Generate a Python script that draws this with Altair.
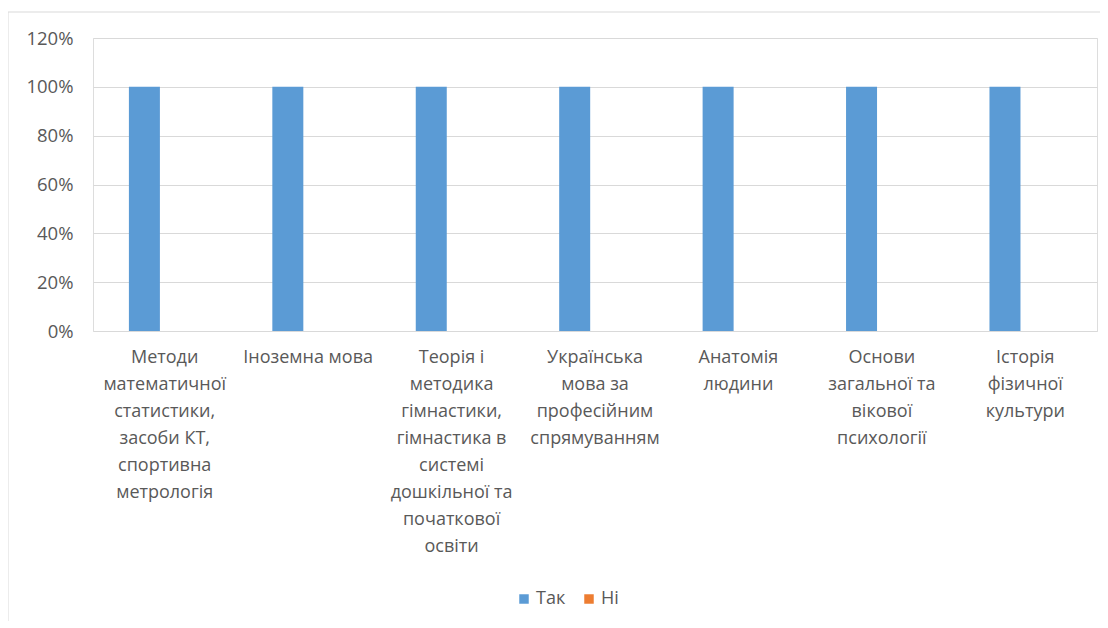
import altair as alt
import pandas as pd

categories = [
    "Методи\nматематичної\nстатистики,\nзасоби КТ,\nспортивна\nметрологія",
    "Іноземна мова",
    "Теорія і\nметодика\nгімнастики,\nгімнастика в\nсистемі\nдошкільної та\nпочаткової\nосвіти",
    "Українська\nмова за\nпрофесійним\nспрямуванням",
    "Анатомія\nлюдини",
    "Основи\nзагальної та\nвікової\nпсихології",
    "Історія\nфізичної\nкультури",
]
series = ["Так", "Ні"]
tak_values = [1.0, 1.0, 1.0, 1.0, 1.0, 1.0, 1.0]
ni_values = [0.0, 0.0, 0.0, 0.0, 0.0, 0.0, 0.0]
y_ticks = [0, 0.2, 0.4, 0.6, 0.8, 1.0, 1.2]
colors = ["#5B9BD5", "#ED7D31"]

rows = []
for c, t, n in zip(categories, tak_values, ni_values):
    rows.append({"cat": c, "series": "Так", "value": t})
    rows.append({"cat": c, "series": "Ні", "value": n})
df = pd.DataFrame(rows)

FONT = "Open Sans"
GRAY = "#595959"

bars = alt.Chart(df).mark_bar().encode(
    x=alt.X(
        "cat:N",
        sort=categories,
        scale=alt.Scale(paddingInner=0.4, paddingOuter=0.2),
        axis=alt.Axis(
            title=None,
            labelAngle=0,
            labelAlign="center",
            labelBaseline="top",
            labelExpr="split(datum.label, '\\n')",
            labelFont=FONT,
            labelFontSize=18,
            labelColor=GRAY,
            labelLineHeight=27,
            labelPadding=17,
            labelLimit=300,
            labelOverlap=False,
            ticks=False,
            domain=False,
            grid=False,
        ),
    ),
    xOffset=alt.XOffset(
        "series:N",
        sort=series,
        scale=alt.Scale(paddingInner=0, paddingOuter=0.388, align=0.3),
    ),
    y=alt.Y(
        "value:Q",
        scale=alt.Scale(domain=[0, 1.2], nice=False),
        axis=alt.Axis(
            title=None,
            values=y_ticks,
            format=".0%",
            labelFont=FONT,
            labelFontSize=18.5,
            labelColor=GRAY,
            labelPadding=20,
            ticks=False,
            domain=False,
            grid=True,
            gridColor="#d9d9d9",
            gridWidth=1,
        ),
    ),
    color=alt.Color(
        "series:N",
        sort=series,
        scale=alt.Scale(domain=series, range=colors),
        legend=alt.Legend(
            title=None,
            orient="none",
            direction="horizontal",
            legendX=422,
            legendY=552,
            symbolType="square",
            symbolSize=90,
            symbolStrokeWidth=0,
            labelFont=FONT,
            labelFontSize=18,
            labelColor=GRAY,
            columnPadding=14,
            labelOffset=3,
        ),
    ),
)

top_border = alt.Chart(pd.DataFrame({"k": [0]})).mark_rule(color="#d9d9d9", strokeWidth=1).encode(
    x=alt.value(-85), x2=alt.value(1010), y=alt.value(-26)
)
left_border = alt.Chart(pd.DataFrame({"k": [0]})).mark_rule(color="#d9d9d9", strokeWidth=1).encode(
    x=alt.value(-85), y=alt.value(-26), y2=alt.value(585)
)

chart = alt.layer(bars, top_border, left_border).properties(
    width=1004,
    height=293,
    autosize=alt.AutoSizeParams(type="none"),
    padding={"left": 85, "top": 30, "right": 3, "bottom": 290},
).configure_view(stroke=None).configure(background="white")

chart.save("out.html", embed_options={"renderer": "svg", "actions": False})
